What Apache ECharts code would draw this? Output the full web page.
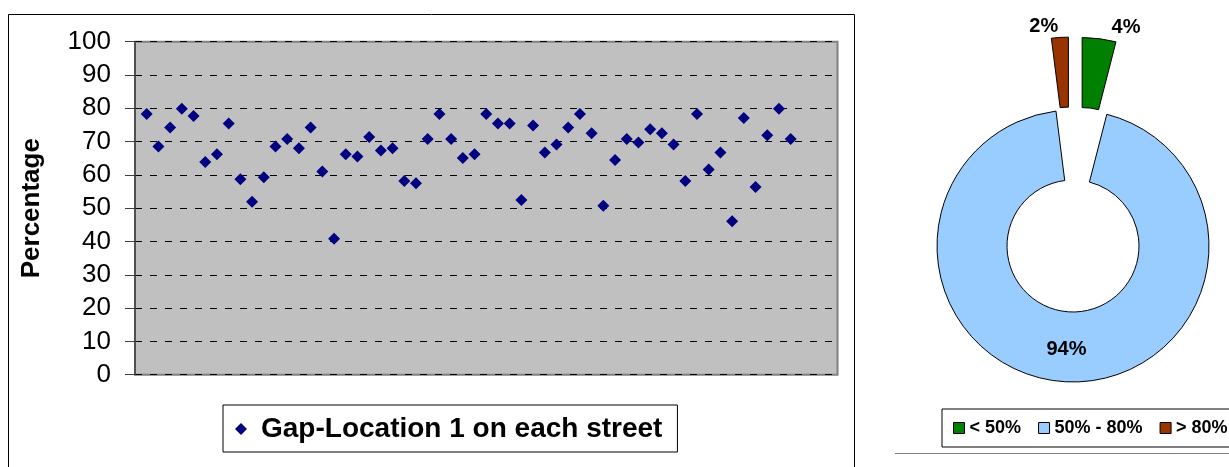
<!DOCTYPE html>
<html><head><meta charset="utf-8">
<script src="https://cdn.jsdelivr.net/npm/echarts@6/dist/echarts.min.js"></script>
<style>html,body{margin:0;padding:0;background:#fff}#c{width:1229px;height:467px}</style>
</head><body><div id="c"></div>
<script>
// ---- data ----
const streetIndex = [1,2,3,4,5,6,7,8,9,10,11,12,13,14,15,16,17,18,19,20,21,22,23,24,25,26,27,28,
  29,30,31,32,33,34,35,36,37,38,39,40,41,42,43,44,45,46,47,48,49,50,51,52,53,54,55,56];
const gapValues = [78.3,68.5,74.2,79.9,77.7,63.9,66.2,75.4,58.7,51.9,59.3,68.5,70.8,68.0,74.2,61.0,
  40.8,66.2,65.5,71.4,67.3,68.0,58.2,57.5,70.8,78.3,70.8,65.1,66.2,78.3,75.4,75.4,52.5,74.8,66.7,
  69.1,74.2,78.3,72.5,50.7,64.5,70.8,69.7,73.7,72.5,69.1,58.2,78.3,61.6,66.7,46.1,77.1,56.4,71.9,79.9,70.8];
const yTickValues = [0,10,20,30,40,50,60,70,80,90,100];
const seriesName = 'Gap-Location 1 on each street';
const pieCategories = ['< 50%', '50% - 80%', '> 80%'];
const pieValues = [4, 94, 2];
const pieExploded = [true, false, true];

// ---- styles ----
const pieColors = ['#008000', '#99CCFF', '#993300'];
const pieLabelLine = [{length: 11, length2: 6}, {}, {length: 11, length2: -4}];
const FONT = 'Liberation Sans, Arial, sans-serif';

const chart = echarts.init(document.getElementById('c'), null, {renderer: 'canvas'});

const pieData = pieCategories.map((n, i) => ({
  name: n,
  value: pieValues[i],
  selected: pieExploded[i],
  itemStyle: {color: pieColors[i]},
  label: pieExploded[i] ? {position: 'outside'} : {position: 'inside'},
  labelLine: Object.assign({show: false}, pieLabelLine[i])
}));

chart.setOption({
  animation: false,
  textStyle: {fontFamily: FONT},
  graphic: [
    {type: 'rect', shape: {x: 8.5, y: 14.5, width: 846, height: 500},
     style: {fill: 'none', stroke: '#000', lineWidth: 1}, z: -1},
    {type: 'line', shape: {x1: 895, y1: 453.5, x2: 1229, y2: 453.5},
     style: {stroke: '#808080', lineWidth: 1}}
  ],
  grid: {left: 135, right: 391.5, top: 41.7, bottom: 92.3, show: true,
    backgroundColor: '#C0C0C0', borderColor: '#808080', borderWidth: 2},
  xAxis: {type: 'value', min: 0, max: 60, show: true,
    axisLine: {show: false}, axisTick: {show: false}, axisLabel: {show: false}, splitLine: {show: false}},
  yAxis: {type: 'value', min: 0, max: 100, interval: 10,
    name: 'Percentage', nameLocation: 'middle', nameRotate: 90, nameGap: 90,
    nameTextStyle: {fontSize: 26, fontWeight: 'bold', color: '#000', fontFamily: FONT},
    axisLine: {show: true, lineStyle: {color: '#404040', width: 1.5}},
    axisTick: {show: true, inside: false, length: 10, lineStyle: {color: '#404040', width: 1}},
    axisLabel: {fontSize: 26, color: '#000', margin: 24, fontFamily: FONT,
      formatter: v => (yTickValues.indexOf(v) >= 0 ? String(v) : '')},
    splitLine: {show: true, lineStyle: {color: '#000', width: 1, type: [7, 8]}}
  },
  legend: [
    {data: [seriesName], left: 223, top: 405, orient: 'horizontal',
     borderColor: '#000', borderWidth: 1, padding: [10, 15, 9, 12],
     itemWidth: 12, itemHeight: 12, icon: 'diamond',
     itemStyle: {opacity: 1, color: '#000080'},
     textStyle: {fontSize: 28, fontWeight: 'bold', color: '#000', fontFamily: FONT, padding: [0, 0, 0, 9]}},
    {data: pieCategories, left: 942, top: 409, width: 330, orient: 'horizontal',
     borderColor: '#000', borderWidth: 1, padding: [10, 10, 10, 11], itemGap: 17,
     itemWidth: 11, itemHeight: 11, icon: 'rect',
     itemStyle: {borderColor: '#000', borderWidth: 1},
     textStyle: {fontSize: 18, fontWeight: 'bold', color: '#000', fontFamily: FONT}}
  ],
  series: [
    {type: 'scatter', name: seriesName, symbol: 'diamond', symbolSize: 12,
     itemStyle: {color: '#000080', opacity: 1},
     data: streetIndex.map((x, i) => [x, gapValues[i]])},
    {type: 'pie', center: [1073, 246], radius: [66, 136], startAngle: 90, clockwise: true,
     selectedMode: 'multiple', selectedOffset: 73, avoidLabelOverlap: false,
     itemStyle: {borderColor: '#000', borderWidth: 1},
     label: {show: true, formatter: '{c}%', fontSize: 20, fontWeight: 'bold', color: '#000', fontFamily: FONT},
     labelLine: {show: false, length: 11, length2: 4},
     emphasis: {disabled: true},
     data: pieData}
  ]
});
</script></body></html>
